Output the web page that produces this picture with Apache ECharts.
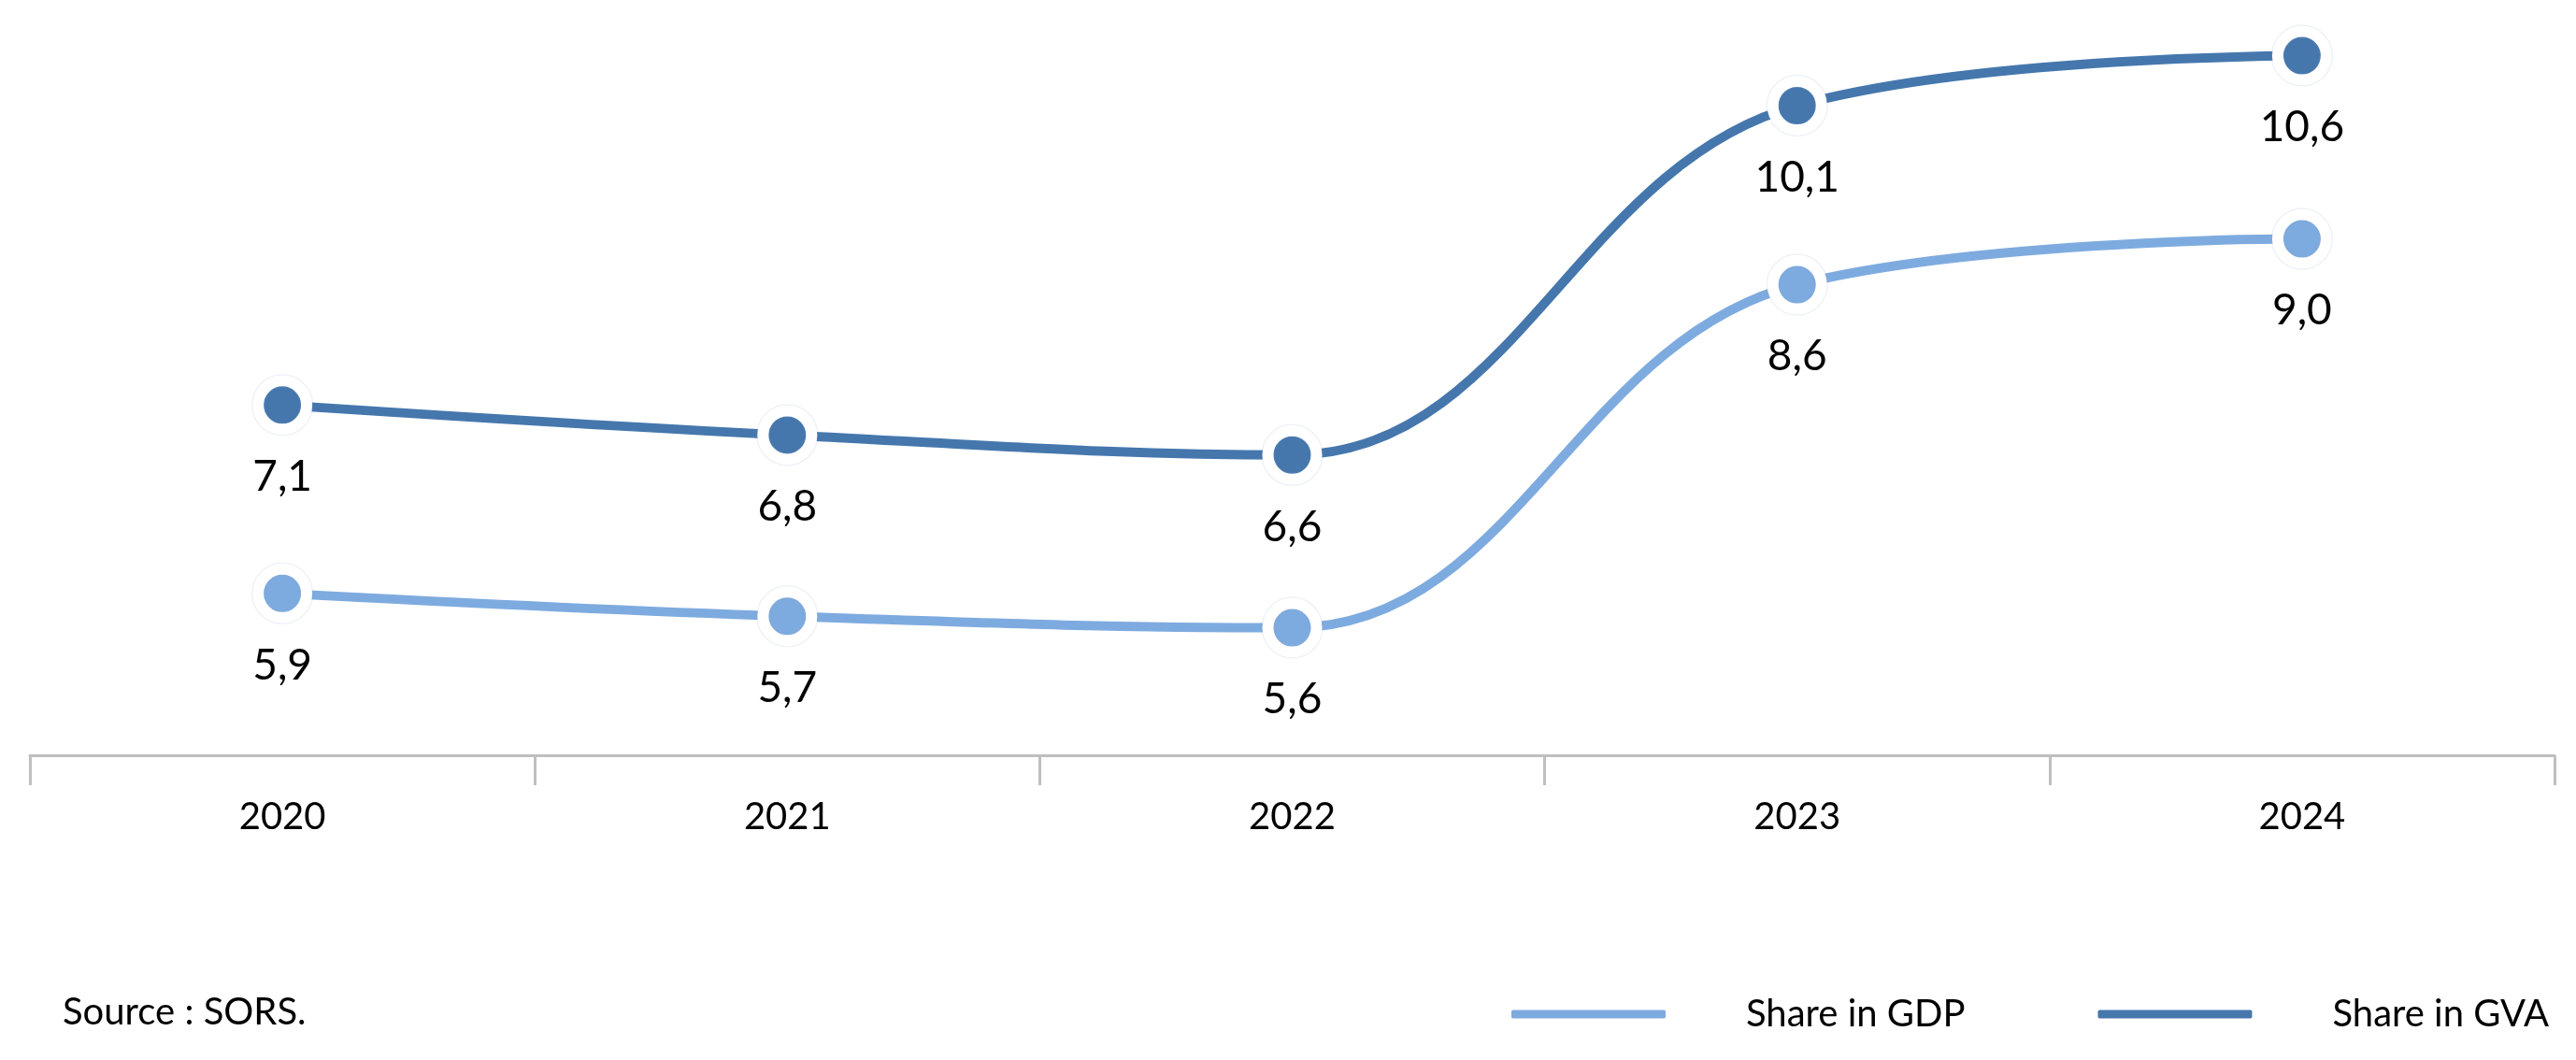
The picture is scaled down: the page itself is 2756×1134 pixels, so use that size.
<!DOCTYPE html>
<html>
<head>
<meta charset="utf-8">
<style>
  html, body { margin: 0; padding: 0; background: #ffffff; }
  #chart { width: 2756px; height: 1134px; }
</style>
<script src="https://cdn.jsdelivr.net/npm/echarts@6/dist/echarts.min.js"></script>
</head>
<body>
<div id="chart"></div>
<script>
const categories = ['2020', '2021', '2022', '2023', '2024'];
const shareGDP = [5.9, 5.7, 5.6, 8.6, 9.0];
const shareGVA = [7.1, 6.8, 6.6, 10.1, 10.6];
const seriesNames = ['Share in GDP', 'Share in GVA'];
const sourceText = 'Source : SORS.';

const FONT = 'Lato';
const colGDP = '#7eabdf';
const colGVA = '#4577ad';

function fmt(v) { return v.toFixed(1).replace('.', ','); }

function makeSeries(name, data, color, axisIdx) {
  return {
    name: name,
    type: 'line',
    yAxisIndex: axisIdx,
    data: data,
    smooth: 0.4,
    symbol: 'circle',
    symbolSize: 52,
    showAllSymbol: true,
    lineStyle: { color: color, width: 10, cap: 'round' },
    itemStyle: {
      color: color,
      borderColor: '#ffffff',
      borderWidth: 12,
      shadowColor: 'rgba(140,165,200,0.55)',
      shadowBlur: 2
    },
    label: {
      show: true,
      position: 'bottom',
      distance: 22,
      fontFamily: FONT,
      fontSize: 46,
      color: '#000000',
      formatter: function (p) { return fmt(p.value); }
    },
    emphasis: { disabled: true },
    z: axisIdx === 0 ? 3 : 2
  };
}

const chart = echarts.init(document.getElementById('chart'), null, { renderer: 'canvas' });
chart.setOption({
  animation: false,
  backgroundColor: '#ffffff',
  grid: { left: 32, right: 23, top: 0, bottom: 326, containLabel: false },
  title: {
    text: sourceText,
    left: 62,
    top: 1058,
    textStyle: { fontFamily: FONT, fontSize: 40, fontWeight: 'normal', color: '#000000' }
  },
  legend: {
    data: seriesNames,
    right: 24,
    top: 1060,
    icon: 'roundRect',
    itemWidth: 167,
    itemHeight: 11,
    itemGap: 140,
    textStyle: { fontFamily: FONT, fontSize: 40, color: '#000000', padding: [0, 0, 0, 80] }
  },
  xAxis: {
    type: 'category',
    data: categories,
    boundaryGap: true,
    axisLine: { show: true, lineStyle: { color: '#bfbfbf', width: 3 } },
    axisTick: { show: true, length: 32, lineStyle: { color: '#bfbfbf', width: 3 } },
    axisLabel: { fontFamily: FONT, fontSize: 40, color: '#000000', margin: 46 },
    splitLine: { show: false }
  },
  yAxis: [
    { type: 'value', min: 3.592, max: 11.158, show: false, splitLine: { show: false } },
    { type: 'value', min: 4.485, max: 11.089, show: false, splitLine: { show: false } }
  ],
  series: [
    makeSeries(seriesNames[1], shareGVA, colGVA, 0),
    makeSeries(seriesNames[0], shareGDP, colGDP, 1)
  ]
});
</script>
</body>
</html>
